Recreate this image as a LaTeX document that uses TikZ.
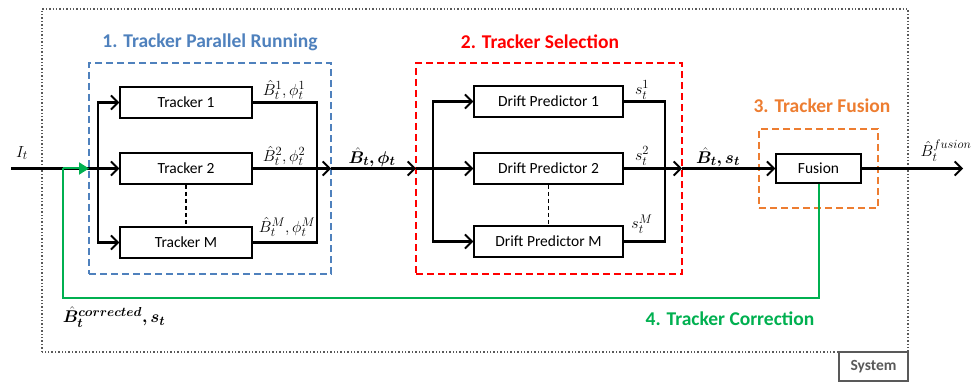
\RequirePackage{fix-cm}
\documentclass[tikz,border=0pt]{standalone}
\usepackage{amsmath,bm}
\usepackage{fontspec}
\setmainfont{Carlito}
\usetikzlibrary{arrows.meta}
\DeclareMathSizes{16}{16}{12.5}{10}
\DeclareMathSizes{17}{17}{13}{10}
\definecolor{cblue}{HTML}{4F81BD}
\definecolor{cred}{HTML}{FF0000}
\definecolor{corange}{HTML}{ED7D31}
\definecolor{cgreen}{HTML}{00B050}
\definecolor{cgray}{HTML}{595959}
\tikzset{
  blk/.style={draw,line width=1.5pt,minimum height=31pt,inner sep=0pt,font=\fontsize{15.5}{18}\selectfont},
  conn/.style={line width=2.2pt},
  arr/.style={conn,-{Straight Barb[length=7pt,width=14pt,line width=1.8pt]}},
  grp/.style={draw,dashed,line width=2.6pt,dash pattern=on 7pt off 4pt},
  ttl/.style={font=\fontsize{19.5}{22}\selectfont\bfseries},
  lbl/.style={inner sep=0pt,font=\fontsize{16}{18}\selectfont},
  blbl/.style={inner sep=0pt,font=\fontsize{17}{19}\selectfont},
  vdash/.style={line width=1.2pt,dash pattern=on 4pt off 3pt},
}
\begin{document}
\begin{tikzpicture}[x=1pt,y=-1pt]
\useasboundingbox (0,0) rectangle (976,382);
% system box
\draw[cgray,dotted,line width=1.4pt] (42,352) -- (42,9) -- (908,9) -- (908,352) -- cycle;
\node[draw=cgray,line width=1.8pt,minimum width=69pt,minimum height=29pt,inner sep=0pt,text=cgray,font=\fontsize{15.5}{18}\selectfont\bfseries] (sys) at (873.5,366.5) {System};
% group boxes
\node[grp,draw=cblue,minimum width=242pt,minimum height=211pt] (g1) at (210,168.5) {};
\node[grp,draw=cred,minimum width=266pt,minimum height=211pt] (g2) at (549,168.5) {};
\node[grp,draw=corange,minimum width=119pt,minimum height=79pt] (g3) at (818.5,168.5) {};
\node[ttl,text=cblue] (t1) at (210,42) {1. Tracker Parallel Running};
\node[ttl,text=cred] (t2) at (540,42) {2. Tracker Selection};
\node[ttl,text=corange] (t3) at (822,106) {3. Tracker Fusion};
\node[ttl,text=cgreen] (t4) at (730,319) {4. Tracker Correction};
% trackers
\node[blk,minimum width=132pt] (tr1) at (186,102.5) {Tracker 1};
\node[blk,minimum width=132pt] (tr2) at (186,168.5) {Tracker 2};
\node[blk,minimum width=132pt] (trM) at (186,242.5) {Tracker M};
\node[blk,minimum width=149pt] (dp1) at (548.5,101.5) {Drift Predictor 1};
\node[blk,minimum width=149pt] (dp2) at (548.5,168.5) {Drift Predictor 2};
\node[blk,minimum width=149pt] (dpM) at (548.5,241.5) {Drift Predictor M};
\node[blk,minimum width=85pt,minimum height=29pt] (fus) at (818.5,168.5) {Fusion};
% coordinates
\coordinate (in) at (11,168.5);
\coordinate (sa) at (98,168.5);
\coordinate (c1) at (317,168.5);
\coordinate (a1) at (331,168.5);
\coordinate (a2) at (416,168.5);
\coordinate (sb) at (433,168.5);
\coordinate (c2) at (665,168.5);
\coordinate (a3) at (682,168.5);
\coordinate (out) at (963,168.5);
\coordinate (gB) at (63,298);
\coordinate (gC) at (63,168.5);
\coordinate (gD) at (89,168.5);
% stage 1
\draw[arr] (in) -- (tr2.west);
\draw[arr] (sa) |- (tr1.west);
\draw[arr] (sa) |- (trM.west);
\draw[conn] (tr1.east) -| (c1) |- (trM.east);
\draw[arr] (tr2.east) -- (a1);
\draw[arr] (a1) -- (a2);
\draw[vdash] (tr2.south) -- (trM.north);
% stage 2
\draw[arr] (a2) -- (dp2.west);
\draw[arr] (sb) |- (dp1.west);
\draw[arr] (sb) |- (dpM.west);
\draw[conn] (dp1.east) -| (c2) |- (dpM.east);
\draw[arr] (dp2.east) -- (a3);
\draw[vdash] (dp2.south) -- (dpM.north);
% stage 3
\draw[arr] (a3) -- (fus.west);
\draw[arr] (fus.east) -- (out);
% correction
\draw[cgreen,line width=2pt] (fus.south) |- (gB) -- (gC);
\draw[cgreen,line width=2pt,-{Triangle[length=10pt,width=12pt]}] (gC) -- (gD);
% labels
\node[lbl] (lin) at (22,153) {$I_t$};
\node[lbl] (l1) at (284,90) {$\hat{B}_t^1,\phi_t^1$};
\node[lbl] (l2) at (284,156) {$\hat{B}_t^2,\phi_t^2$};
\node[lbl] (lM) at (287,227) {$\hat{B}_t^M,\phi_t^M$};
\node[blbl] (lb) at (372,157) {$\bm{\hat{B}_t,\phi_t}$};
\node[lbl] (s1) at (642,90) {$s_t^1$};
\node[lbl] (s2) at (642,156) {$s_t^2$};
\node[lbl] (sM) at (642,224) {$s_t^M$};
\node[blbl] (ls) at (718,157) {$\bm{\hat{B}_t,s_t}$};
\node[lbl] (lf) at (946,151) {$\hat{B}_t^{fusion}$};
\node[blbl] (lc) at (114,317) {$\bm{\hat{B}_t^{corrected},s_t}$};
\end{tikzpicture}
\end{document}
